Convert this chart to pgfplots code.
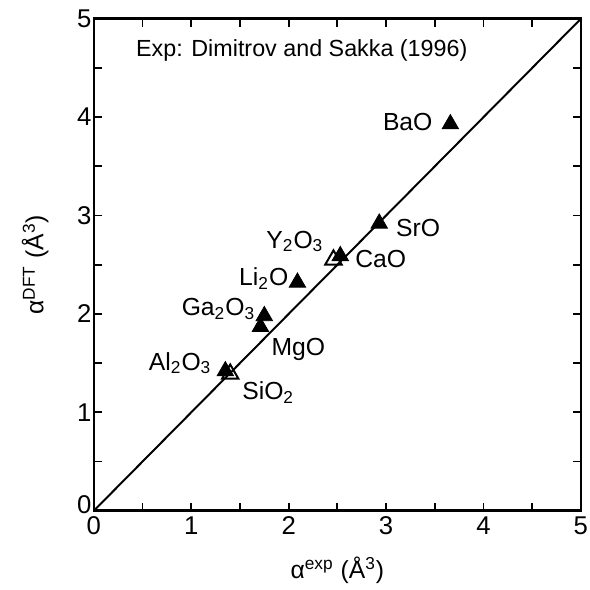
\documentclass[border=0pt]{standalone}
\usepackage{fontspec}
\setmainfont{Liberation Sans}
\usepackage{pgfplots}
\pgfplotsset{compat=1.18}
\tikzset{lab/.style={font=\fontsize{12.5}{14}\selectfont, inner sep=0pt}}
\begin{document}
\begin{tikzpicture}
\begin{axis}[
    scale only axis,
    width=246.5pt, height=249pt,
    xmin=0, xmax=5, ymin=0, ymax=5,
    xtick={0,...,5}, ytick={0,...,5},
    yticklabels={{\raisebox{3pt}[\height][\depth]{0}},1,2,3,4,5},
    minor x tick num=1, minor y tick num=1,
    tick align=inside,
    major tick length=4pt, minor tick length=4pt,
    tick style={black, line width=0.9pt},
    axis line style={line width=1.3pt},
    tick label style={font=\fontsize{13}{15}\selectfont, inner sep=1pt},
    xticklabel style={yshift=-2pt},
    /pgf/number format/assume math mode=true,
    xlabel={α\textsuperscript{exp} (Å\textsuperscript{3})},
    ylabel={α\textsuperscript{DFT} (Å\textsuperscript{3})},
    label style={font=\fontsize{12.5}{14}\selectfont},
    xlabel style={at={(rel axis cs:0.5,0)}, anchor=center, yshift=-30pt},
    ylabel style={yshift=10pt},
    clip=false,
]
% y = x reference line
\addplot[black, line width=1pt] coordinates {(0,0) (5,5)};
% open triangles
\addplot[only marks, mark=triangle, mark size=4.8pt, mark options={line width=1pt, black}]
    coordinates {(2.46,2.55) (1.40,1.39)};
% filled triangles
\addplot[only marks, mark=triangle*, mark size=4.8pt, mark options={black, fill=black}]
    coordinates {
    (3.66,3.93) % BaO
    (2.93,2.92) % SrO
    (2.53,2.59) % CaO
    (2.09,2.32) % Li2O
    (1.75,1.98) % Ga2O3
    (1.71,1.87) % MgO
    (1.35,1.42) % Al2O3
    };
\node[lab, anchor=base west, font=\fontsize{11.8}{14}\selectfont] at (axis cs:0.43,4.62) {Exp: Dimitrov and Sakka (1996)};
\node[lab, anchor=base east] at (axis cs:3.48,3.86) {BaO};
\node[lab, anchor=base west] at (axis cs:3.10,2.79) {SrO};
\node[lab, anchor=base west] at (axis cs:2.68,2.47) {CaO};
\node[lab, anchor=base east] at (axis cs:2.36,2.67) {Y\textsubscript{2}O\textsubscript{3}};
\node[lab, anchor=base east] at (axis cs:2.00,2.29) {Li\textsubscript{2}O};
\node[lab, anchor=base east] at (axis cs:1.66,1.98) {Ga\textsubscript{2}O\textsubscript{3}};
\node[lab, anchor=base west] at (axis cs:1.82,1.58) {MgO};
\node[lab, anchor=base east] at (axis cs:1.21,1.43) {Al\textsubscript{2}O\textsubscript{3}};
\node[lab, anchor=base west] at (axis cs:1.52,1.13) {SiO\textsubscript{2}};
\end{axis}
\path ([xshift=-47.5pt]current axis.south west);
\path ([yshift=9.5pt]current axis.north west);
\path ([yshift=-36.5pt]current axis.south west);
\end{tikzpicture}
\end{document}
